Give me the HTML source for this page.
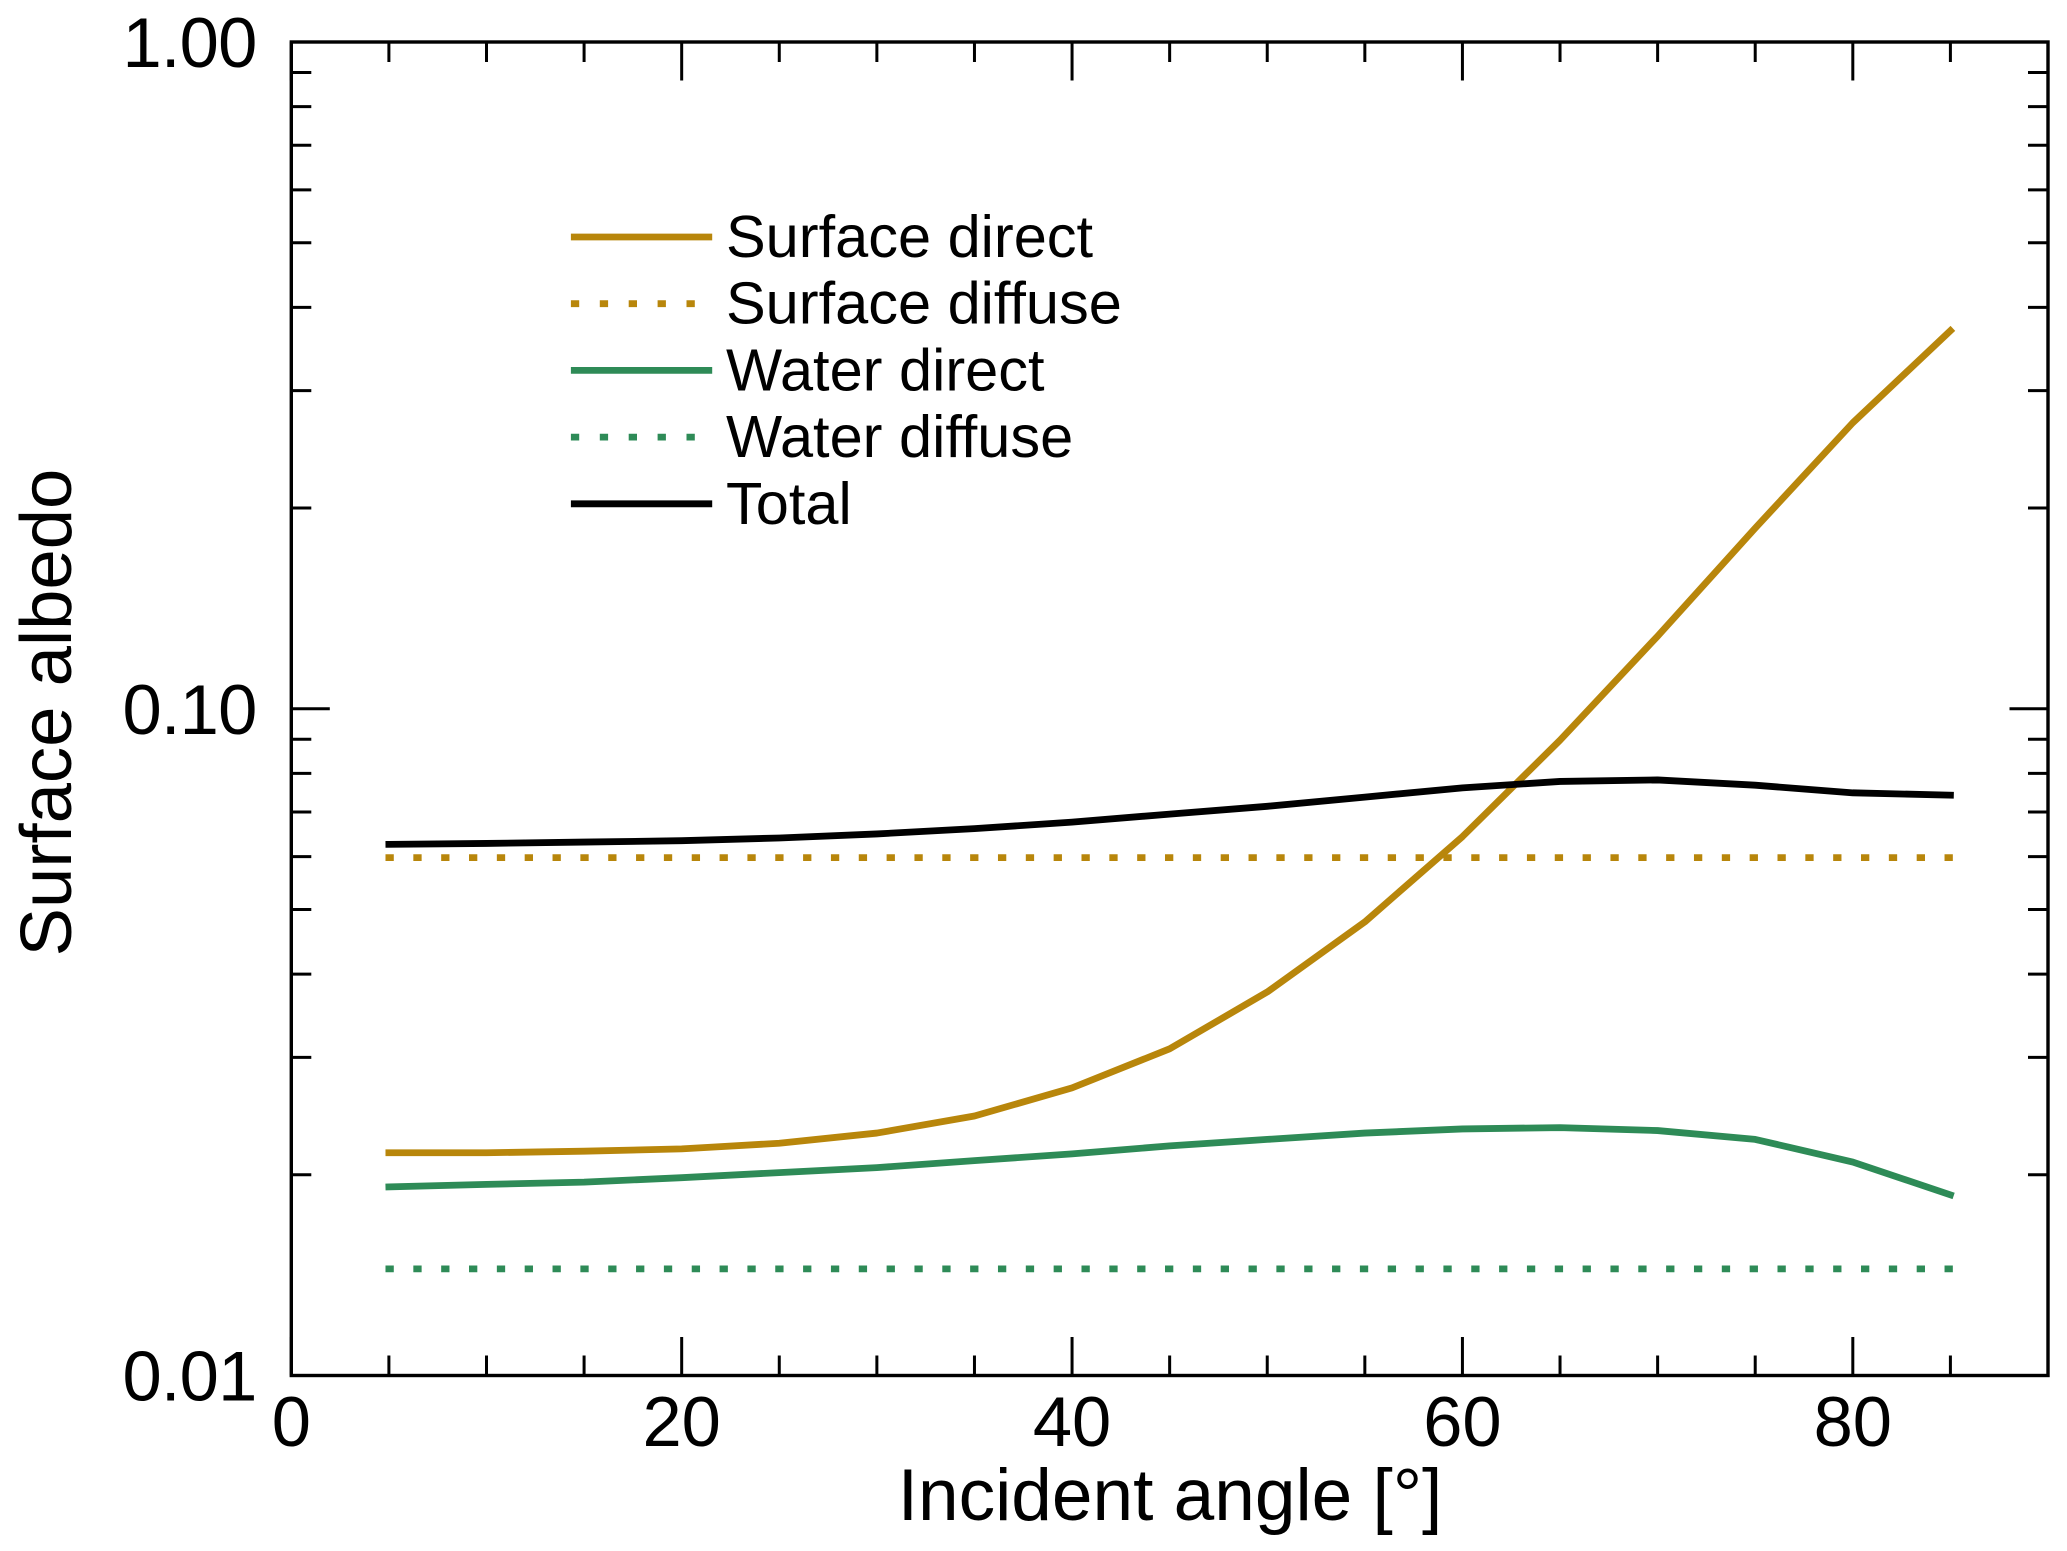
<!DOCTYPE html>
<html>
<head>
<meta charset="utf-8">
<title>Surface albedo vs incident angle</title>
<style>
html,body{margin:0;padding:0;background:#fff;}
svg{display:block;}
text{font-family:"Liberation Sans",Arial,sans-serif;fill:#000;}
</style>
</head>
<body>
<svg id="chart" xmlns="http://www.w3.org/2000/svg" width="2067" height="1551" viewBox="0 0 2067 1551">
<rect x="0" y="0" width="2067" height="1551" fill="#ffffff"/>
<g id="series"></g>
<g id="axes"></g>
<text x="1170" y="1520" font-size="73" text-anchor="middle">Incident angle [°]</text>
<text transform="translate(71 712.5) rotate(-90)" font-size="72.5" text-anchor="middle">Surface albedo</text>
<g id="legend"></g>
</svg>
<script>
const angles = [5,10,15,20,25,30,35,40,45,50,55,60,65,70,75,80,85];
const surfaceDirect = [0.02158,0.02158,0.02170,0.02187,0.0223,0.0231,0.0245,0.0270,0.0309,0.0376,0.0479,0.0643,0.0897,0.1285,0.1866,0.2685,0.369];
const surfaceDiffuse = [0.0598,0.0598,0.0598,0.0598,0.0598,0.0598,0.0598,0.0598,0.0598,0.0598,0.0598,0.0598,0.0598,0.0598,0.0598,0.0598,0.0598];
const waterDirect = [0.01918,0.01935,0.0195,0.0198,0.02015,0.0205,0.0210,0.0215,0.0221,0.0226,0.0231,0.02343,0.02354,0.0233,0.0226,0.0209,0.01866];
const waterDiffuse = [0.01445,0.01445,0.01445,0.01445,0.01445,0.01445,0.01445,0.01445,0.01445,0.01445,0.01445,0.01445,0.01445,0.01445,0.01445,0.01445,0.01445];
const total = [0.0626,0.0628,0.0631,0.0634,0.0640,0.0649,0.0661,0.0676,0.0695,0.0714,0.0737,0.0761,0.0778,0.0782,0.0768,0.0748,0.0742];
const seriesNames = ["Surface direct","Surface diffuse","Water direct","Water diffuse","Total"];
const xMajorTicks = [0,20,40,60,80];
const xMinorTicks = [5,10,15,25,30,35,45,50,55,65,70,75,85];
const yMajorTicks = [1,0.1,0.01];
const yMajorLabels = ["1.00","0.10","0.01"];
const yMinorTicks = [0.9,0.8,0.7,0.6,0.5,0.4,0.3,0.2,0.09,0.08,0.07,0.06,0.05,0.04,0.03,0.02];

const NS = "http://www.w3.org/2000/svg";
const L = 291.3, R = 2048, T = 42, B = 1375.5;
const X = a => L + (a / 90) * (R - L);
const Y = v => T + (-Math.log10(v) / 2) * (B - T);
const GOLD = "#b8860b", GREEN = "#2e8b57", BLACK = "#000000";
const LINE_W = 6.8;

function mk(tag, parent, attrs) {
  const el = document.createElementNS(NS, tag);
  for (const k in attrs) el.setAttribute(k, attrs[k]);
  parent.appendChild(el);
  return el;
}

const seriesG = document.getElementById("series");
const axesG = document.getElementById("axes");
const legendG = document.getElementById("legend");

const styles = [
  {data: surfaceDirect, color: GOLD, dotted: false},
  {data: surfaceDiffuse, color: GOLD, dotted: true},
  {data: waterDirect, color: GREEN, dotted: false},
  {data: waterDiffuse, color: GREEN, dotted: true},
  {data: total, color: BLACK, dotted: false}
];
const seriesKeys = ["surface-direct","surface-diffuse","water-direct","water-diffuse","total"];

styles.forEach((s, i) => {
  const pts = s.data.map((v, j) => X(angles[j]).toFixed(2) + "," + Y(v).toFixed(2)).join(" ");
  const line = mk("polyline", seriesG, {points: pts, fill: "none", stroke: s.color, "stroke-width": LINE_W, "stroke-linejoin": "round", "stroke-linecap": "square"});
  if (s.dotted) line.setAttribute("stroke-dasharray", "1.5 26.34");
  
  
});

const frame = mk("rect", axesG, {x: L, y: T, width: R - L, height: B - T, fill: "none", stroke: "#000", "stroke-width": 3.4});



function tick(x1, y1, x2, y2, name) {
  const t = mk("line", axesG, {x1: x1, y1: y1, x2: x2, y2: y2, stroke: "#000", "stroke-width": 3});
  
  
}

xMinorTicks.forEach(a => {
  tick(X(a), B, X(a), B - 20, 'x-minor-tick-bottom');
  tick(X(a), T, X(a), T + 20, 'x-minor-tick-top');
});
xMajorTicks.forEach(a => {
  tick(X(a), B, X(a), B - 38.5, 'x-major-tick-bottom');
  tick(X(a), T, X(a), T + 38.5, 'x-major-tick-top');
  const lbl = mk("text", axesG, {x: X(a), y: 1446, "font-size": 70.5, "text-anchor": "middle"});
  lbl.textContent = String(a);
  
  
});
yMinorTicks.forEach(v => {
  tick(L, Y(v), L + 20, Y(v), 'y-minor-tick-left');
  tick(R, Y(v), R - 20, Y(v), 'y-minor-tick-right');
});
yMajorTicks.forEach((v, i) => {
  tick(L, Y(v), L + 38.5, Y(v), 'y-major-tick-left');
  tick(R, Y(v), R - 38.5, Y(v), 'y-major-tick-right');
  const lbl = mk("text", axesG, {x: 256.5, y: Y(v) + 25, "font-size": 70.5, "text-anchor": "end", "letter-spacing": "-0.8"});
  lbl.textContent = yMajorLabels[i];
  
  
});

styles.forEach((s, i) => {
  const y = 237 + i * 66.7;
  const swatch = mk("line", legendG, {x1: 574.3, y1: y, x2: s.dotted ? 691.5 : 708.8, y2: y, stroke: s.color, "stroke-width": LINE_W, "stroke-linecap": "square"});
  if (s.dotted) swatch.setAttribute("stroke-dasharray", "1.5 27.4");
  
  
  const lbl = mk("text", legendG, {x: 726, y: y + 20, "font-size": 59.5});
  lbl.textContent = seriesNames[i];
  
  
});
</script>
</body>
</html>
